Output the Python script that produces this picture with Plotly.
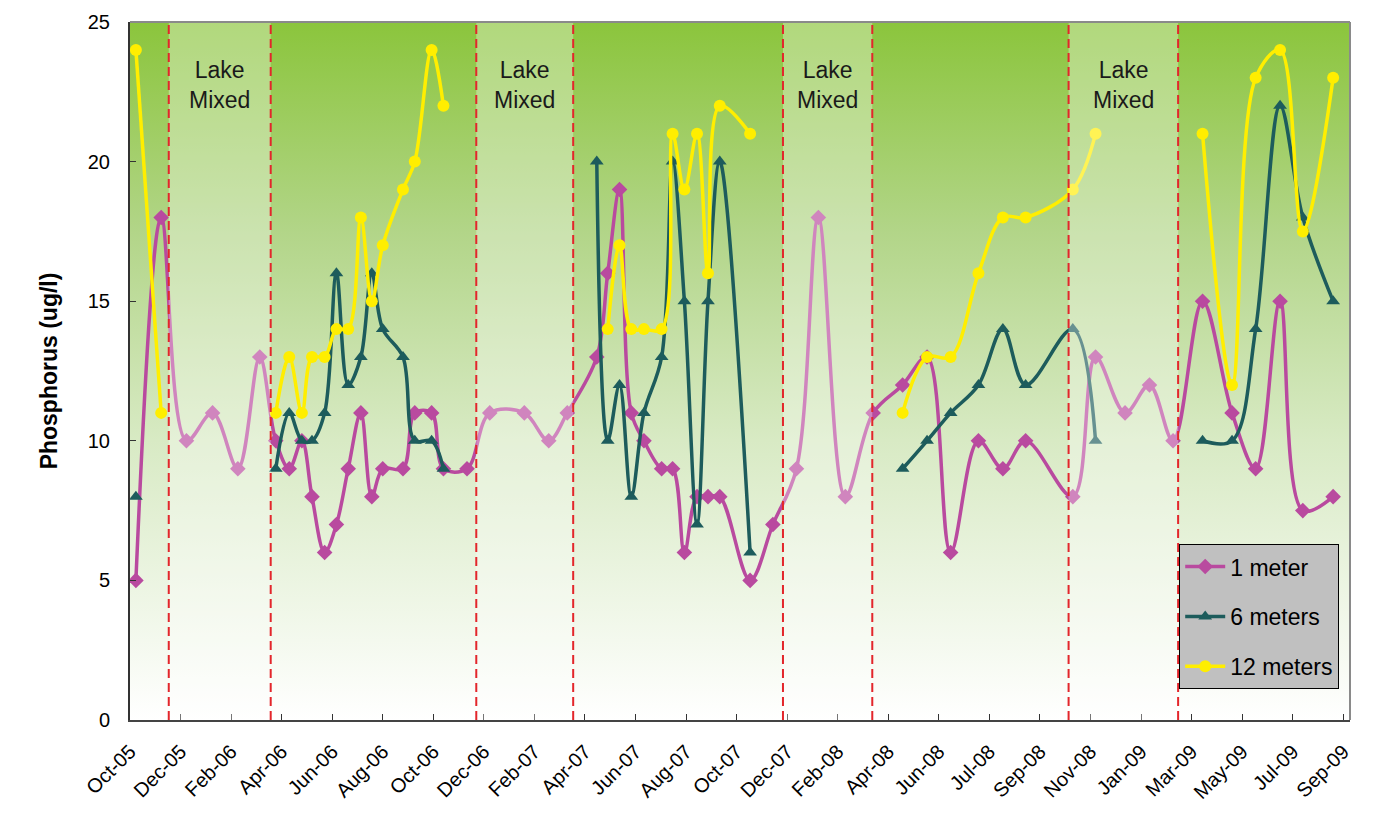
import plotly.graph_objects as go
import pandas as pd

# sampling dates
dates = ['2005-10-22', '2005-11-21', '2005-12-21', '2006-01-21', '2006-02-20', '2006-03-18',
         '2006-04-06', '2006-04-22', '2006-05-07', '2006-05-19', '2006-06-03', '2006-06-17',
         '2006-07-01', '2006-07-16', '2006-07-29', '2006-08-11', '2006-09-04', '2006-09-18',
         '2006-10-08', '2006-10-22',
         '2006-11-19', '2006-12-16', '2007-01-26', '2007-02-24', '2007-03-18',
         '2007-04-22', '2007-05-05', '2007-05-19', '2007-06-02', '2007-06-17', '2007-07-08',
         '2007-07-21', '2007-08-04', '2007-08-19', '2007-09-01', '2007-09-15', '2007-10-21',
         '2007-11-17', '2007-12-15', '2008-01-10', '2008-02-11', '2008-03-15',
         '2008-04-19', '2008-05-18', '2008-06-15', '2008-07-18', '2008-08-16', '2008-09-12',
         '2008-11-07', '2008-12-04',
         '2009-01-08', '2009-02-06', '2009-03-06',
         '2009-04-10', '2009-05-15', '2009-06-12', '2009-07-11', '2009-08-07', '2009-09-12']

p_1m = [5, 18, 10, 11, 9, 13,
        10, 9, 10, 8, 6, 7, 9, 11, 8, 9, 9, 11, 11, 9,
        9, 11, 11, 10, 11,
        13, 16, 19, 11, 10, 9, 9, 6, 8, 8, 8, 5,
        7, 9, 18, 8, 11,
        12, 13, 6, 10, 9, 10, 8, 13,
        11, 12, 10,
        15, 11, 9, 15, 7.5, 8]

p_6m = [8, None, None, None, None, None,
        9, 11, 10, 10, 11, 16, 12, 13, 16, 14, 13, 10, 10, 9,
        None, None, None, None, None,
        20, 10, 12, 8, 11, 13, 20, 15, 7, 15, 20, 6,
        None, None, None, None, None,
        9, 10, 11, 12, 14, 12, 14, 10,
        None, None, None,
        10, 10, 14, 22, 18, 15]

p_12m = [24, 11, None, None, None, None,
         11, 13, 11, 13, 13, 14, 14, 18, 15, 17, 19, 20, 24, 22,
         None, None, None, None, None,
         None, 14, 17, 14, 14, 14, 21, 19, 21, 16, 22, 21,
         None, None, None, None, None,
         11, 13, 13, 16, 18, 18, 19, 21,
         None, None, None,
         21, 12, 23, 24, 17.5, 23]

mixed_start = ['2005-11-30', '2006-11-30', '2007-11-29', '2008-11-02']
mixed_end = ['2006-03-31', '2007-03-25', '2008-03-14', '2009-03-12']

x_range = ['2005-10-15', '2009-10-02']

PINK = '#b94a9f'
TEAL = '#1d5c5c'
YELLOW = '#ffee00'
FONT = 'Liberation Sans, Arial, sans-serif'

fig = go.Figure()

# green gradient background of the plot area
fig.add_trace(go.Scatter(
    x=[x_range[0], x_range[1], x_range[1], x_range[0]], y=[0, 0, 25, 25],
    mode='none', fill='toself',
    fillgradient=dict(type='vertical', start=0, stop=25,
                      colorscale=[[0, '#ffffff'], [0.4, '#d8eac4'],
                                  [0.7, '#b2d588'], [1, '#8bc53c']]),
    showlegend=False, hoverinfo='skip'))

series = [('1 meter', p_1m, PINK, 'diamond', 12),
          ('6 meters', p_6m, TEAL, 'triangle-up', 12),
          ('12 meters', p_12m, YELLOW, 'circle', 12)]
for name, vals, col, sym, sz in series:
    fig.add_trace(go.Scatter(
        x=dates, y=vals, name=name, mode='lines+markers', connectgaps=False,
        legendgroup=name,
        line=dict(color=col, width=3.5, shape='spline', smoothing=1.0),
        marker=dict(symbol=sym, size=sz, color=col)))

shapes = []
annotations = []
for s, e in zip(mixed_start, mixed_end):
    shapes.append(dict(type='rect', xref='x', yref='y', x0=s, x1=e, y0=0, y1=25,
                       fillcolor='rgba(255,255,255,0.33)', line=dict(width=0), layer='above'))
    mid = pd.Timestamp(s) + (pd.Timestamp(e) - pd.Timestamp(s)) / 2
    annotations.append(dict(x=mid, y=22.75, xref='x', yref='y', text='Lake<br>Mixed',
                            showarrow=False, font=dict(family=FONT, size=23, color='#1a1a1a')))
for d in mixed_start + mixed_end:
    shapes.append(dict(type='line', xref='x', yref='y', x0=d, x1=d, y0=0, y1=25,
                       line=dict(color='#e3262b', width=2, dash='9px,5px'), layer='above'))

# top / right frame of plot area
shapes.append(dict(type='line', xref='paper', yref='paper', x0=0, x1=1, y0=1, y1=1,
                   line=dict(color='#8a8a8a', width=2)))
shapes.append(dict(type='line', xref='paper', yref='paper', x0=1, x1=1, y0=0, y1=1,
                   line=dict(color='#8a8a8a', width=2)))
# outer chart frame on the left
shapes.append(dict(type='line', xref='paper', yref='paper', x0=-0.1025, x1=-0.1025,
                   y0=-0.2, y1=1.1, line=dict(color='#333333', width=1.5)))

# the page adds an 8px body margin, so the figure is a bit smaller and shifted
fig.update_layout(
    width=1373, height=819,
    margin=dict(l=122, r=31, t=14, b=107),
    paper_bgcolor='white', plot_bgcolor='white',
    font=dict(family=FONT, color='black'),
    shapes=shapes, annotations=annotations,
    legend=dict(x=0.86, y=0.252, xanchor='left', yanchor='top',
                bgcolor='#c0c0c0', bordercolor='black', borderwidth=1,
                font=dict(family=FONT, size=23), itemwidth=40, tracegroupgap=17),
    xaxis=dict(type='date', range=x_range, tick0='2005-10-15', dtick=60 * 86400000,
               tickformat='%b-%y', tickangle=-45, ticks='inside', ticklen=6,
               tickcolor='#333', showgrid=False, zeroline=False, automargin=False,
               showline=True, linecolor='#444', linewidth=2,
               tickfont=dict(size=20), ticklabelstandoff=10),
    yaxis=dict(range=[0, 25], dtick=5, ticks='inside', ticklen=6, tickcolor='#333',
               showgrid=False, zeroline=False, automargin=False,
               showline=True, linecolor='#333', linewidth=2,
               tickfont=dict(size=20), ticklabelstandoff=14,
               title=dict(text='<b>Phosphorus (ug/l)</b>', font=dict(size=23), standoff=24)),
)

fig.write_html("out.html")
